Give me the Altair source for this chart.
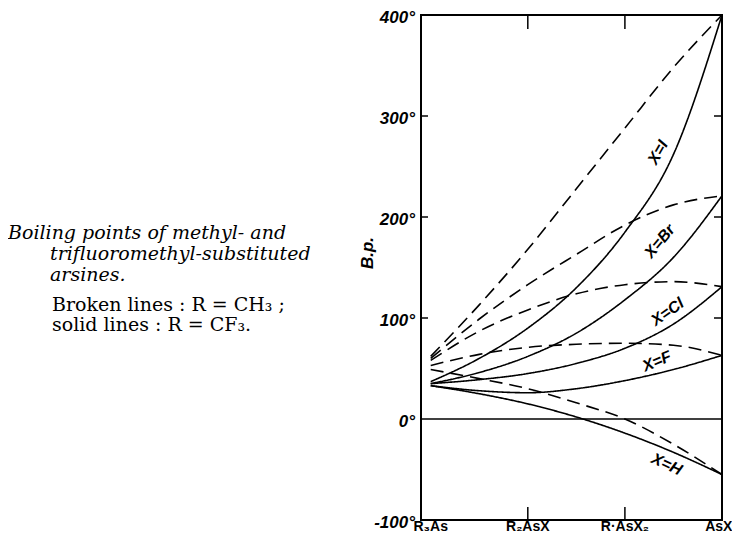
import altair as alt
import pandas as pd

# ---------------- data ----------------
categories = ["R₃As", "R₂AsX", "R·AsX₂", "AsX₃"]
cat_index = [0, 1, 2, 3]
halogens = ["H", "F", "Cl", "Br", "I"]

# positions along the x axis at which the hand-drawn curves were read
curve_x = [0, 0.5, 1, 1.5, 2, 2.5, 3]

# boiling points (deg C), R = CH3 (broken lines)
ch3_H = [49, 40, 30, 16, 0, -25, -55]
ch3_F = [53, 64, 71, 74, 75, 73, 63]
ch3_Cl = [58, 87, 108, 124, 133, 136, 131]
ch3_Br = [60, 99, 133, 163, 192, 212, 221]
ch3_I = [62, 113, 168, 228, 288, 348, 400]

# boiling points (deg C), R = CF3 (solid lines)
cf3_H = [33, 25, 15, 2, -14, -33, -55]
cf3_F = [33, 28, 26, 30, 38, 49, 63]
cf3_Cl = [35, 39, 45, 55, 70, 94, 131]
cf3_Br = [35, 46, 62, 85, 118, 160, 221]
cf3_I = [37, 60, 90, 130, 185, 262, 400]

y_ticks = [400, 300, 200, 100, 0, -100]
y_tick_labels = ["400°", "300°", "200°", "100°", "0°", "-100°"]
inner_y_ticks = [100, 200, 300]
inner_x_ticks = [1, 2]

curve_labels = ["X=I", "X=Br", "X=Cl", "X=F", "X=H"]
curve_label_x = [2.34, 2.36, 2.44, 2.33, 2.43]
curve_label_y = [264, 176, 106, 57, -45]
curve_label_angle = [300, 310, 325, 337, 25]

caption_lines = ["Boiling points of methyl- and",
                 "trifluoromethyl-substituted",
                 "arsines.",
                 "Broken lines :  R = CH₃ ;",
                 "solid lines :  R = CF₃."]
caption_italic = [True, True, True, False, False]
caption_px = [0, 42, 42, 44, 44]
caption_py = [225, 246, 267, 297, 317]

# ---------------- tables ----------------
ch3 = [ch3_H, ch3_F, ch3_Cl, ch3_Br, ch3_I]
cf3 = [cf3_H, cf3_F, cf3_Cl, cf3_Br, cf3_I]
rows = []
for R, block in (("CH3", ch3), ("CF3", cf3)):
    for X, vals in zip(halogens, block):
        for i, v in zip(curve_x, vals):
            rows.append({"idx": i, "bp": v, "R": R, "X": X, "series": R + "-" + X})
lines_df = pd.DataFrame(rows)

X_MIN, X_MAX = -0.1, 3
Y_MIN, Y_MAX = -100, 400
xs = alt.Scale(domain=[X_MIN, X_MAX], range=[413, 714])
ys = alt.Scale(domain=[Y_MIN, Y_MAX], range=[512, 7])


def X(field):
    return alt.X(field, type="quantitative", scale=xs, axis=None)


def Y(field):
    return alt.Y(field, type="quantitative", scale=ys, axis=None)


frame_df = pd.DataFrame({"x0": [X_MIN], "x1": [X_MAX], "y0": [Y_MIN], "y1": [Y_MAX]})
frame = alt.Chart(frame_df).mark_rect(fillOpacity=0, stroke="black", strokeWidth=2).encode(
    x=X("x0"), x2="x1", y=Y("y0"), y2="y1")

zero_df = pd.DataFrame({"x0": [X_MIN], "x1": [X_MAX], "y": [0]})
zero = alt.Chart(zero_df).mark_rule(color="black", strokeWidth=1.6).encode(
    x=X("x0"), x2="x1", y=Y("y"))

lt_df = pd.DataFrame({"x": [X_MIN] * len(inner_y_ticks), "y": inner_y_ticks})
left_ticks = alt.Chart(lt_df).mark_rule(color="black", strokeWidth=1.5, x2Offset=7).encode(
    x=X("x"), x2="x", y=Y("y"))
rt_df = pd.DataFrame({"x": [X_MAX] * len(inner_y_ticks), "y": inner_y_ticks})
right_ticks = alt.Chart(rt_df).mark_rule(color="black", strokeWidth=1.5, x2Offset=-8).encode(
    x=X("x"), x2="x", y=Y("y"))
tt_df = pd.DataFrame({"x": inner_x_ticks, "y": [Y_MAX] * len(inner_x_ticks)})
top_ticks = alt.Chart(tt_df).mark_rule(color="black", strokeWidth=1.5, y2Offset=14).encode(
    x=X("x"), y=Y("y"), y2="y")
bt_df = pd.DataFrame({"x": inner_x_ticks, "y": [Y_MIN] * len(inner_x_ticks)})
bottom_ticks = alt.Chart(bt_df).mark_rule(color="black", strokeWidth=1.5, y2Offset=-13).encode(
    x=X("x"), y=Y("y"), y2="y")

curves = alt.Chart(lines_df).mark_line(color="black", strokeWidth=1.6, interpolate="monotone").encode(
    x=X("idx"), y=Y("bp"),
    strokeDash=alt.StrokeDash("R:N", scale=alt.Scale(domain=["CH3", "CF3"], range=[[13, 7], [1, 0]]),
                              legend=None),
    detail="series:N", order="idx:Q")

ylab_df = pd.DataFrame({"y": y_ticks, "t": y_tick_labels})
y_labels = alt.Chart(ylab_df).mark_text(align="right", baseline="middle", font="Liberation Sans",
                                         fontStyle="italic", fontWeight="bold", fontSize=17, dy=3).encode(
    x=alt.value(407), y=Y("y"), text="t:N")

xlab_df = pd.DataFrame({"x": cat_index, "t": categories})
x_labels = alt.Chart(xlab_df).mark_text(align="center", baseline="bottom", font="Liberation Sans",
                                         fontWeight="bold", fontSize=14).encode(
    x=X("x"), y=alt.value(526), text="t:N")

bp_label = alt.Chart(pd.DataFrame({"t": ["B.p."]})).mark_text(
    angle=270, align="center", baseline="middle", font="Liberation Sans",
    fontStyle="italic", fontWeight="bold", fontSize=17).encode(
    x=alt.value(360), y=alt.value(245), text="t:N")

cl_df = pd.DataFrame({"x": curve_label_x, "y": curve_label_y, "t": curve_labels, "a": curve_label_angle})
curve_text = alt.Chart(cl_df).mark_text(align="center", baseline="middle", font="Liberation Sans",
                                         fontStyle="italic", fontWeight="bold", fontSize=16).encode(
    x=X("x"), y=Y("y"), text="t:N", angle=alt.Angle("a:Q", scale=None))

caption_layers = []
for txt, ital, px, py in zip(caption_lines, caption_italic, caption_px, caption_py):
    caption_layers.append(
        alt.Chart(pd.DataFrame({"t": [txt]})).mark_text(
            align="left", baseline="middle", font="DejaVu Serif",
            fontStyle="italic" if ital else "normal", fontSize=19).encode(
            x=alt.value(px), y=alt.value(py), text="t:N"))

full = alt.layer(
    frame, zero, left_ticks, right_ticks, top_ticks, bottom_ticks, curves,
    y_labels, x_labels, bp_label, curve_text, *caption_layers
).properties(
    width=724, height=526, autosize=alt.AutoSizeParams(type="none"), padding=0,
    background="white").configure_view(stroke=None)

full.save("out.html", embed_options={"renderer": "svg", "actions": False})
